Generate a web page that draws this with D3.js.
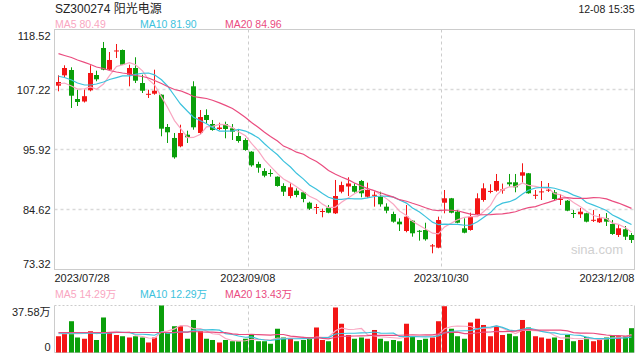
<!DOCTYPE html>
<html><head><meta charset="utf-8">
<script src="https://cdn.jsdelivr.net/npm/d3@7/dist/d3.min.js"></script>
<style>body{margin:0;background:#fff}svg{display:block}text{font-family:"Liberation Sans",Arial,"Noto Sans CJK SC",sans-serif}</style>
</head><body><svg id="c" width="640" height="360"></svg>
<script>
const dates = ["07/28","07/31",
"08/01","08/02","08/03","08/04","08/07","08/08","08/09","08/10","08/11","08/14","08/15","08/16","08/17","08/18","08/21","08/22","08/23","08/24","08/25","08/28","08/29","08/30","08/31",
"09/01","09/04","09/05","09/06","09/07","09/08","09/11","09/12","09/13","09/14","09/15","09/18","09/19","09/20","09/21","09/22","09/25","09/26","09/27","09/28",
"10/09","10/10","10/11","10/12","10/13","10/16","10/17","10/18","10/19","10/20","10/23","10/24","10/25","10/26","10/27","10/30","10/31",
"11/01","11/02","11/03","11/06","11/07","11/08","11/09","11/10","11/13","11/14","11/15","11/16","11/17","11/20","11/21","11/22","11/23","11/24","11/27","11/28","11/29","11/30",
"12/01","12/04","12/05","12/06","12/07","12/08"];
const open  = [107.94,109.89,110.89,105.43,104.96,107.07,109.95,115.04,110.95,114.43,114.66,110.01,111.27,108.44,106.32,106.43,106.24,100.16,98.09,96.52,98.71,107.82,99.03,102.42,100.72,99.78,100.72,99.91,98.46,97.71,95.51,93.19,91.87,91.49,90.80,89.05,87.16,88.16,87.86,85.90,84.98,84.23,84.96,83.90,87.97,88.95,89.05,89.99,87.03,87.29,87.03,85.15,83.77,82.33,80.57,82.51,80.61,80.76,77.75,77.43,85.90,86.73,84.21,81.08,80.76,83.77,86.41,88.01,88.16,88.20,89.74,89.74,90.99,91.44,87.31,87.92,88.24,87.86,86.49,86.28,83.96,83.72,83.91,82.59,82.21,82.96,81.89,79.82,80.89,79.82];
const close = [108.63,111.27,106.05,104.87,105.96,110.33,109.14,110.95,112.78,114.57,111.89,111.27,108.88,106.99,106.41,106.99,99.84,99.16,94.45,99.03,98.22,100.10,102.04,101.48,99.59,100.06,99.78,99.28,97.52,95.83,92.94,92.49,90.99,91.38,89.05,87.97,88.80,87.35,86.60,84.77,85.09,84.34,84.02,87.16,89.22,89.52,87.97,87.67,88.29,87.39,85.60,84.40,82.33,81.83,83.27,80.14,80.52,79.01,77.86,82.64,86.73,84.02,82.13,80.25,83.27,86.73,88.61,88.12,89.99,88.40,89.37,88.80,91.63,87.67,87.39,88.03,88.35,86.60,86.60,84.40,83.85,84.21,82.33,82.68,82.96,82.33,80.01,81.08,79.50,78.88];
const high  = [109.89,111.78,111.40,107.18,107.22,111.78,110.76,116.17,114.28,115.79,114.75,111.89,113.29,110.01,107.18,110.95,106.30,100.72,99.03,100.59,99.46,108.77,103.36,103.49,101.48,100.97,101.16,100.72,99.59,98.03,95.60,93.62,92.38,92.19,90.85,89.56,89.56,88.61,87.97,86.09,85.66,84.79,85.47,90.18,89.86,90.69,89.56,90.18,89.67,88.16,87.97,85.79,84.21,82.96,85.47,82.60,80.76,82.13,78.12,83.27,88.29,86.80,84.53,82.96,84.02,87.67,89.56,89.37,91.31,89.50,91.31,91.31,93.32,91.50,88.29,89.99,89.61,88.29,87.54,86.40,84.53,84.90,84.00,84.53,83.77,83.96,82.64,81.70,81.51,80.20];
const low   = [106.88,109.52,103.74,104.11,104.77,106.88,108.77,110.84,110.84,113.15,111.83,107.82,108.44,106.56,105.62,106.24,98.41,97.15,94.19,96.34,97.15,99.65,98.84,100.85,99.46,99.59,98.03,97.71,97.20,95.69,92.68,91.55,90.69,90.80,88.92,87.16,86.73,86.92,85.98,84.53,83.77,83.15,83.91,83.77,87.67,87.16,87.79,86.92,86.84,85.15,85.15,83.91,82.14,80.57,80.33,79.50,78.75,78.75,76.37,77.32,83.90,83.90,82.02,80.14,80.63,83.59,86.09,87.67,87.97,87.60,88.92,87.86,89.67,87.60,86.60,86.41,87.92,86.41,85.47,84.30,83.02,83.02,82.20,82.27,82.08,81.51,79.85,79.44,78.88,78.31];
// volume, 万
const volume = [13,15,25,12,11,17,10,28,16,14,13,12,13,12,8,12,37.58,16,21,21,11,26,17,11,10,8,10,9,9,11,14,9,9,7,19,12,11,9,10,12,20,10,9,36,23,14,11,12,11,18,11,9,10,9,23,13,10,11,12,25,37,19,13,11,24,27,22,13,21,14,15,13,26,20,13,12,11,12,10,14,9,10,12.45,9,11,12,14,13,13,19.45];
// moving-average values for days whose window starts before 07/28
const ma5Head  = [108.26,108.44,107.88,107.31];
const ma10Head = [109.71,109.48,109.01,108.44,108.07,108.07,108.26,108.63,109.10];
const ma20Head = [113.97,113.63,113.25,112.78,112.34,111.93,111.46,111.18,110.80,110.52,110.33,110.14,109.86,109.67,109.39,108.92,108.35,107.79,107.22];
const vma5Head = [15,15,15,15];
const vma10Head = [15.5,15.5,15.5,15.5,15.5,15.5,15.5,15.5,15.5];
const vma20Head = [16,16,16,16,16,16,16,16,16,16,16,16,16,16,16,16,16,16,16];
const priceTicks = [73.32,84.62,95.92,107.22,118.52];
const volTicks = [0,37.58];
const xTickIdx = [0,30,60,89];
const legend = {ma5:"MA5 80.49", ma10:"MA10 81.90", ma20:"MA20 84.96"};
const vLegend = {ma5:"MA5 14.29万", ma10:"MA10 12.29万", ma20:"MA20 13.43万"};
const title = "SZ300274 阳光电源", stamp = "12-08 15:35";

const C = {up:"#f31515", down:"#0a9f0a", ma5:"#f9a6c1", ma10:"#3cc2dd", ma20:"#ea4c7f", grid:"#d9d9d9", axis:"#cccccc", text:"#222"};
function ma(arr, n, head){ return arr.map((_,i)=> i<n-1 ? head[i] : d3.mean(arr.slice(i-n+1,i+1))); }

const svg = d3.select("#c");
const L=54.5, R=634.5, PT=29.5, PB=269.5, VT=305.5, VB=352.5;
const N = dates.length;
const x = d3.scaleBand().domain(d3.range(N)).range([L,R]);
const cx = i => Math.round(x(i)+x.bandwidth()/2)+0.5;
const bw = 5;
const y = d3.scaleLinear().domain([73.32,118.52]).range([PB,PT]);
const yv = d3.scaleLinear().domain([0,37.58]).range([VB,VT]);

// header
svg.append("text").attr("x",55).attr("y",13).attr("font-size",12).attr("fill","#222").text(title);
svg.append("text").attr("x",R).attr("y",13).attr("text-anchor","end").attr("font-size",10.5).attr("fill","#222").text(stamp);
[["ma5",55],["ma10",140],["ma20",225]].forEach(([k,xx])=>{
  svg.append("text").attr("x",xx).attr("y",28).attr("font-size",10.5).attr("fill",C[k]).text(legend[k]);
  svg.append("text").attr("x",xx).attr("y",298).attr("font-size",10.5).attr("fill",C[k]).text(vLegend[k]);
});

// grid
const g = svg.append("g");
g.selectAll(".hg").data(priceTicks.slice(1,-1)).join("line")
 .attr("x1",L).attr("x2",R).attr("y1",d=>Math.round(y(d))+0.5).attr("y2",d=>Math.round(y(d))+0.5)
 .attr("stroke",C.grid).attr("stroke-width",1.5).attr("stroke-dasharray","3,3");
g.selectAll(".vg").data([30,60]).join("line")
 .attr("x1",d=>Math.round(x(d))+0.5).attr("x2",d=>Math.round(x(d))+0.5).attr("y1",PT).attr("y2",PB)
 .attr("stroke",C.axis).attr("stroke-dasharray","3,3");
g.selectAll(".vg2").data([30,60]).join("line")
 .attr("x1",d=>Math.round(x(d))+0.5).attr("x2",d=>Math.round(x(d))+0.5).attr("y1",VT).attr("y2",VB)
 .attr("stroke",C.axis).attr("stroke-dasharray","3,3");
svg.append("rect").attr("x",L).attr("y",PT).attr("width",R-L).attr("height",PB-PT).attr("fill","none").attr("stroke",C.axis);
svg.append("line").attr("x1",L).attr("x2",R).attr("y1",VT).attr("y2",VT).attr("stroke",C.axis).attr("stroke-dasharray","2,2");
svg.append("line").attr("x1",L).attr("x2",L).attr("y1",VT).attr("y2",VB).attr("stroke",C.axis);
svg.append("line").attr("x1",R).attr("x2",R).attr("y1",VT).attr("y2",VB).attr("stroke",C.axis);
svg.append("line").attr("x1",L).attr("x2",R).attr("y1",VB).attr("y2",VB).attr("stroke",C.axis);

// axis labels (first/last kept inside the panel, as in the reference)
function yLabels(scale, ticks, fmt, top, bottom){
  svg.append("g").selectAll("text").data(ticks).join("text")
   .attr("x",L-4).attr("text-anchor","end").attr("font-size",11).attr("fill",C.text)
   .attr("y",(d,i)=> i===0 ? bottom-2 : (i===ticks.length-1 ? top+10 : scale(d)+4))
   .text(fmt);
}
yLabels(y, priceTicks, d3.format(".2f"), PT, PB);
yLabels(yv, volTicks, d=>d===0?"0":d3.format(".2f")(d)+"万", VT, VB);
xTickIdx.forEach((i,k)=>{
  const anchor = k===0?"start":(k===xTickIdx.length-1?"end":"middle");
  const xx = k===0?L:(k===xTickIdx.length-1?R:x(i));
  svg.append("text").attr("x",xx).attr("y",282).attr("text-anchor",anchor).attr("font-size",11).attr("fill",C.text).text("2023/"+dates[i]);
});
svg.append("text").attr("x",623).attr("y",254).attr("text-anchor","end").attr("font-size",13).attr("fill","#d0d0d0").text("sina.com");

// candles
const idx = d3.range(N);
const col = i => close[i]>=open[i]?C.up:C.down;
const cg = svg.append("g");
cg.selectAll(".w").data(idx).join("line")
 .attr("x1",cx).attr("x2",cx).attr("y1",i=>y(high[i])).attr("y2",i=>y(low[i])).attr("stroke",col);
cg.selectAll(".b").data(idx).join("rect")
 .attr("x",i=>cx(i)-bw/2).attr("width",bw)
 .attr("y",i=>y(Math.max(open[i],close[i])))
 .attr("height",i=>Math.max(1,Math.abs(y(open[i])-y(close[i])))).attr("fill",col);

// MA lines
const line = d3.line().x((d,i)=>cx(i)).y(d=>y(d));
[["ma5",5,ma5Head],["ma10",10,ma10Head],["ma20",20,ma20Head]].forEach(([k,n,h])=>{
  svg.append("path").attr("d",line(ma(close,n,h))).attr("fill","none").attr("stroke",C[k]).attr("stroke-width",1.2);
});

// volume
svg.selectAll(".v").data(idx).join("rect")
 .attr("x",i=>cx(i)-bw/2).attr("width",bw).attr("y",i=>yv(volume[i])).attr("height",i=>VB-yv(volume[i])).attr("fill",col);
const vline = d3.line().x((d,i)=>cx(i)).y(d=>yv(d));
[["ma5",5,vma5Head],["ma10",10,vma10Head],["ma20",20,vma20Head]].forEach(([k,n,h])=>{
  svg.append("path").attr("d",vline(ma(volume,n,h))).attr("fill","none").attr("stroke",C[k]).attr("stroke-width",1.2);
});
</script></body></html>
